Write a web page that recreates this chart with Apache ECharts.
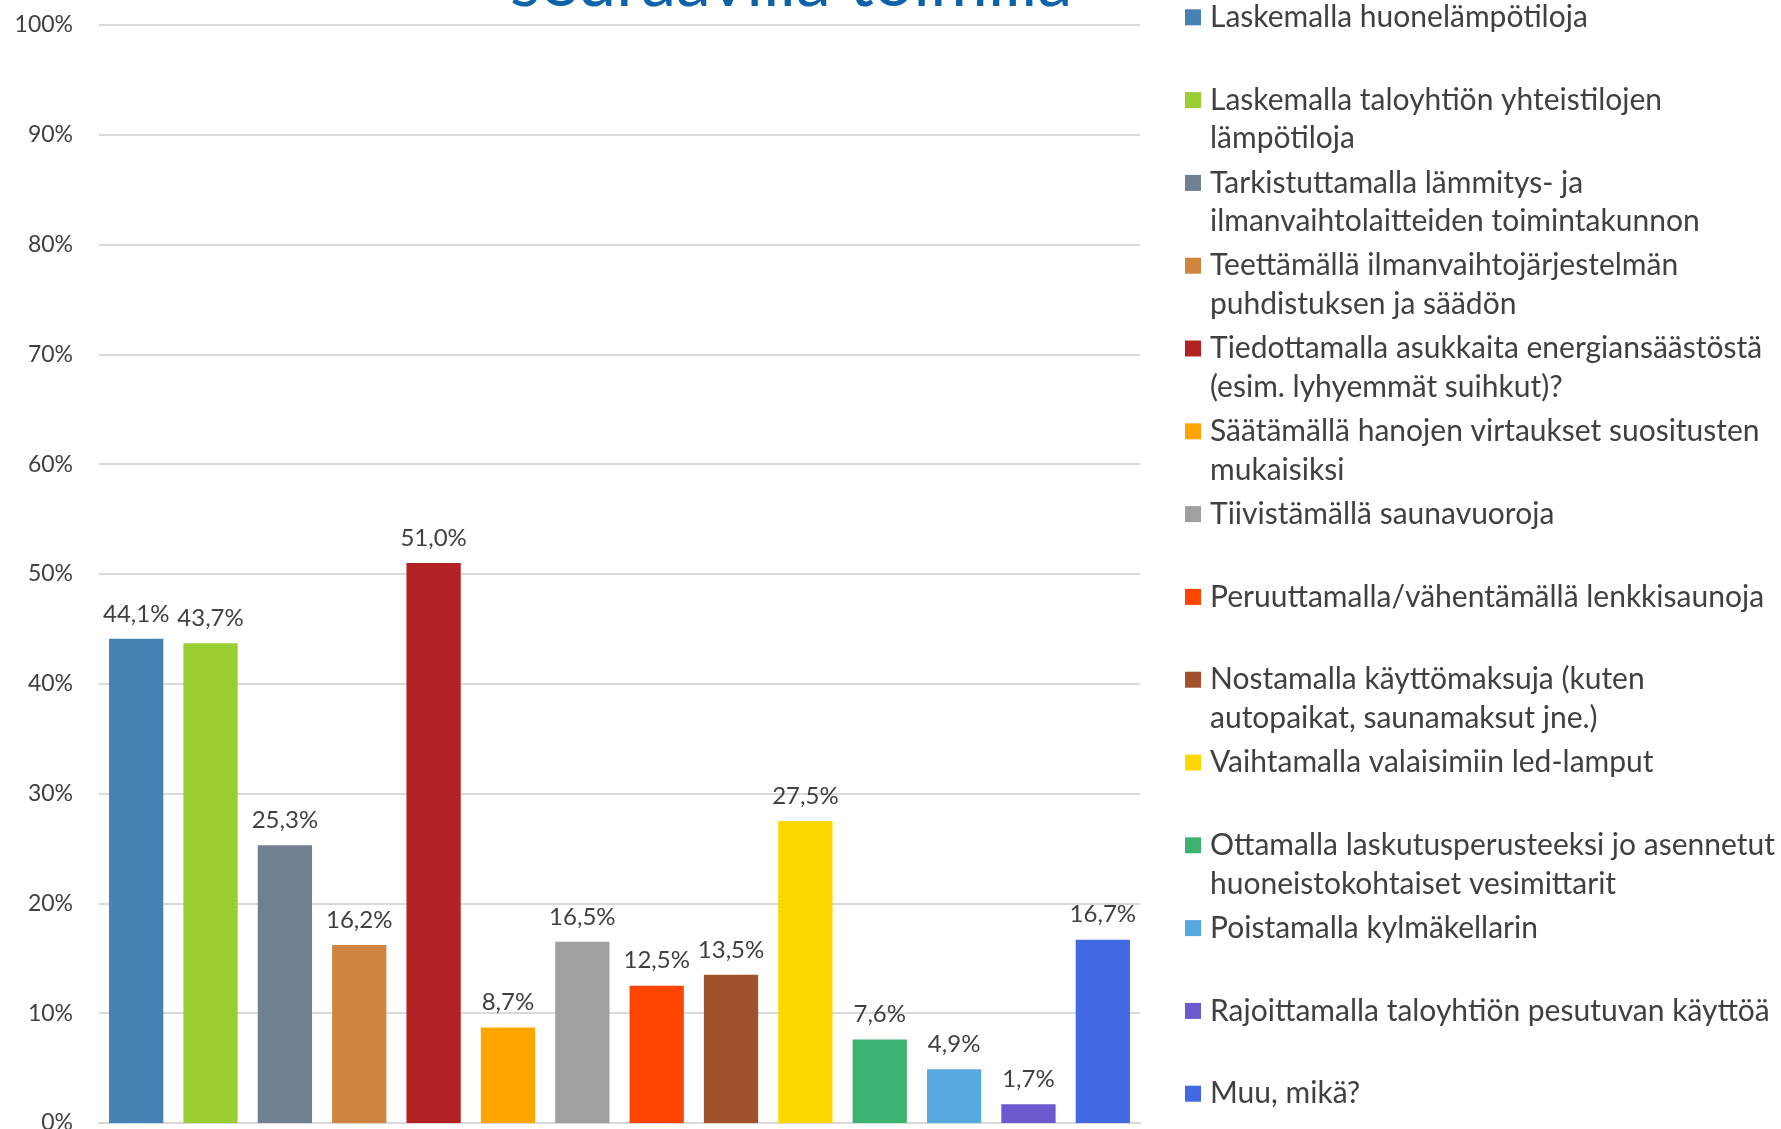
<!DOCTYPE html>
<html>

<head>
    <meta charset="utf-8" />
    <script src="https://cdn.jsdelivr.net/npm/echarts@6/dist/echarts.min.js"></script>
</head>

<body style="margin:0">
    <div id="main" style="width: 1781px; height:1129px;"></div>
    <script type="text/javascript">
        var chart = echarts.init(document.getElementById('main'));

        // vastausvaihtoehdot (rivinvaihdot kuten selitteessä)
        var names = [
            'Laskemalla huonelämpötiloja',
            'Laskemalla taloyhtiön yhteistilojen\nlämpötiloja',
            'Tarkistuttamalla lämmitys- ja\nilmanvaihtolaitteiden toimintakunnon',
            'Teettämällä ilmanvaihtojärjestelmän\npuhdistuksen ja säädön',
            'Tiedottamalla asukkaita energiansäästöstä\n(esim. lyhyemmät suihkut)?',
            'Säätämällä hanojen virtaukset suositusten\nmukaisiksi',
            'Tiivistämällä saunavuoroja',
            'Peruuttamalla/vähentämällä lenkkisaunoja',
            'Nostamalla käyttömaksuja (kuten\nautopaikat, saunamaksut jne.)',
            'Vaihtamalla valaisimiin led-lamput',
            'Ottamalla laskutusperusteeksi jo asennetut\nhuoneistokohtaiset vesimittarit',
            'Poistamalla kylmäkellarin',
            'Rajoittamalla taloyhtiön pesutuvan käyttöä',
            'Muu, mikä?'
        ];
        // osuudet, %
        var values = [44.1, 43.7, 25.3, 16.2, 51.0, 8.7, 16.5, 12.5, 13.5, 27.5, 7.6, 4.9, 1.7, 16.7];
        var colors = ['#4682B4', '#9ACD32', '#708090', '#CD853F', '#B22222', '#FFA500', '#A0A0A0',
            '#FF4500', '#A0522D', '#FFD700', '#3CB371', '#56A8DE', '#6A5ACD', '#4169E1'];
        var yTicks = [0, 10, 20, 30, 40, 50, 60, 70, 80, 90, 100];

        var font = 'Lato';
        var textColor = '#404040';

        var rich = {
            p: { width: 16 },
            t: { fontFamily: font, fontSize: 30, lineHeight: 38.6, color: textColor, padding: [0, 0, 0, 9] }
        };
        colors.forEach(function (c, i) {
            rich['m' + i] = { width: 16, height: 16, backgroundColor: c };
        });

        var series = names.map(function (name, i) {
            return {
                name: name,
                type: 'bar',
                stack: 'all',
                barCategoryGap: '27%',
                itemStyle: { color: colors[i] },
                label: {
                    show: true,
                    position: 'top',
                    distance: 13,
                    color: textColor,
                    fontFamily: font,
                    fontSize: 24,
                    formatter: function (p) {
                        return p.value.toFixed(1).replace('.', ',') + '%';
                    }
                },
                data: values.map(function (v, j) { return j === i ? v : '-'; })
            };
        });

        var option = {
            animation: false,
            title: {
                text: 'seuraavilla toimilla',
                left: 505,
                top: -57,
                textStyle: { fontFamily: font, fontSize: 70, lineHeight: 70, color: '#0E62A8', fontWeight: 'normal' }
            },
            grid: { left: 99, right: 641, top: 25, bottom: 6, outerBoundsMode: 'none' },
            legend: {
                orient: 'vertical',
                left: 1180,
                top: -2,
                height: 1160,
                padding: 0,
                itemGap: 5.6,
                icon: 'none',
                itemWidth: 0,
                itemHeight: 0,
                selectedMode: false,
                data: names,
                textStyle: { lineHeight: 38.6, rich: rich },
                formatter: function (name) {
                    var i = names.indexOf(name);
                    var lines = name.split('\n');
                    var s = '{m' + i + '|}{t|' + lines[0] + '}';
                    if (i < names.length - 1) {
                        s += '\n{p|}{t|' + (lines[1] || ' ') + '}';
                    }
                    return s;
                }
            },
            xAxis: {
                type: 'category',
                data: names,
                axisTick: { show: false },
                axisLabel: { show: false },
                axisLine: { lineStyle: { color: '#D9D9D9', width: 2 } }
            },
            yAxis: {
                type: 'value',
                min: yTicks[0],
                max: yTicks[yTicks.length - 1],
                interval: yTicks[1] - yTicks[0],
                axisLabel: {
                    formatter: '{value}%', color: textColor, fontFamily: font, fontSize: 23,
                    margin: 26, padding: [4, 0, 0, 0]
                },
                splitLine: { lineStyle: { color: '#D9D9D9', width: 2 } }
            },
            series: series
        };

        chart.setOption(option);
    </script>
</body>

</html>
